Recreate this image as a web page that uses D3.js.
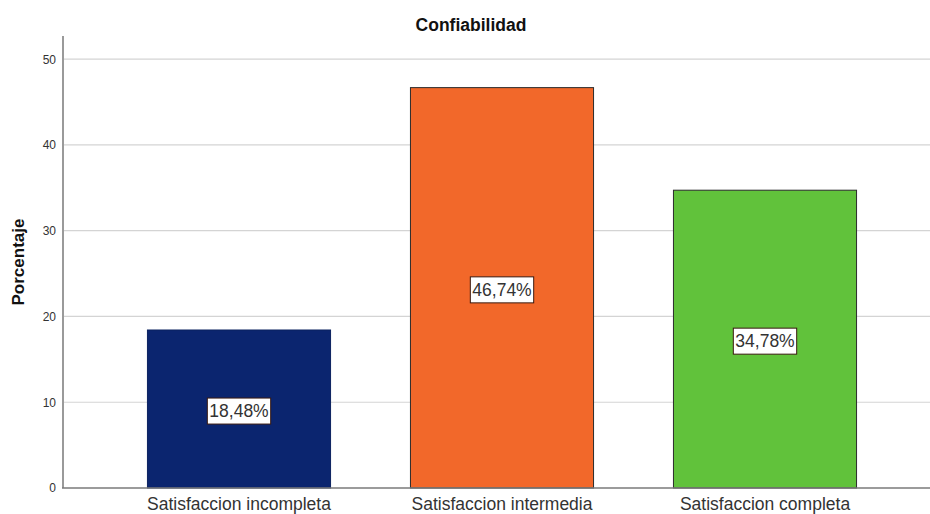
<!DOCTYPE html>
<html>
<head>
<meta charset="utf-8">
<script src="https://cdn.jsdelivr.net/npm/d3@7"></script>
<style>
  html, body { margin: 0; padding: 0; background: #fff; }
  svg { display: block; }
</style>
</head>
<body>
<svg id="chart" width="930" height="514"></svg>
<script>
// Porcentaje por nivel de satisfacción
const categories = ["Satisfaccion incompleta", "Satisfaccion intermedia", "Satisfaccion completa"];
const values = [18.48, 46.74, 34.78];
const valueLabels = ["18,48%", "46,74%", "34,78%"];
const barColors = ["#0b256f", "#f2682a", "#61c23b"];
const yTicks = [0, 10, 20, 30, 40, 50];

const svg = d3.select("#chart");
const W = 930, H = 514;
const axisX = 63, baseY = 488, topY = 36;
const FONT = "Liberation Sans, Arial, sans-serif";

const y = d3.scaleLinear().domain([0, 52.7]).range([baseY, topY]);
const x = d3.scaleBand()
  .domain(categories)
  .range([107.5, 896.5])
  .paddingInner(0.3)
  .paddingOuter(0.15);

// horizontal grid lines
svg.append("g")
  .selectAll("line")
  .data(yTicks.filter(d => d > 0))
  .join("line")
  .attr("x1", axisX)
  .attr("x2", W)
  .attr("y1", d => y(d))
  .attr("y2", d => y(d))
  .attr("stroke", "#d4d4d4")
  .attr("stroke-width", 1.2);

// bars
svg.append("g")
  .selectAll("rect")
  .data(values)
  .join("rect")
  .attr("x", (d, i) => x(categories[i]) + 0.5)
  .attr("y", d => y(d) + 0.5)
  .attr("width", x.bandwidth() - 1)
  .attr("height", d => baseY - y(d) - 0.5)
  .attr("fill", (d, i) => barColors[i])
  .attr("stroke", (d, i) => i === 0 ? "#0b2260" : "#2a2a2a")
  .attr("stroke-width", 1);

// y axis
const yAxis = d3.axisLeft(y).tickValues(yTicks).tickSize(0).tickPadding(7).tickFormat(d3.format("d"));
const gy = svg.append("g").attr("transform", `translate(${axisX},0)`).call(yAxis);
gy.select(".domain").remove();
gy.selectAll("text")
  .attr("font-family", FONT)
  .attr("font-size", 12)
  .attr("fill", "#333");

svg.append("line")
  .attr("x1", axisX).attr("x2", axisX)
  .attr("y1", topY).attr("y2", baseY)
  .attr("stroke", "#9a9a9a").attr("stroke-width", 2);

// x axis
const xAxis = d3.axisBottom(x).tickSize(0).tickPadding(10);
const gx = svg.append("g").attr("transform", `translate(0,${baseY})`).call(xAxis);
gx.select(".domain").remove();
gx.selectAll("text")
  .attr("font-family", FONT)
  .attr("font-size", 17.5)
  .attr("fill", "#333");

svg.append("line")
  .attr("x1", axisX - 1).attr("x2", W)
  .attr("y1", baseY).attr("y2", baseY)
  .attr("stroke", "#7a7a7a").attr("stroke-width", 1.5);

// value labels
const lbl = svg.append("g")
  .selectAll("g")
  .data(values)
  .join("g")
  .attr("transform", (d, i) => `translate(${x(categories[i]) + x.bandwidth() / 2},${y(d / 2) + 2})`);

lbl.append("text")
  .text((d, i) => valueLabels[i])
  .attr("text-anchor", "middle")
  .attr("dy", "0.36em")
  .attr("font-family", FONT)
  .attr("font-size", 17.5)
  .attr("fill", "#333")
  .each(function () {
    const b = this.getBBox();
    d3.select(this.parentNode).insert("rect", "text")
      .attr("x", b.x - 2)
      .attr("y", b.y - 3)
      .attr("width", b.width + 4)
      .attr("height", b.height + 6)
      .attr("fill", "#fff")
      .attr("stroke", "#3a1a10")
      .attr("stroke-width", 1);
  });

// titles
svg.append("text")
  .attr("x", 471).attr("y", 31)
  .attr("text-anchor", "middle")
  .attr("font-family", FONT)
  .attr("font-weight", "bold")
  .attr("font-size", 17.5)
  .attr("fill", "#111")
  .text("Confiabilidad");

svg.append("text")
  .attr("transform", `translate(24,262) rotate(-90)`)
  .attr("text-anchor", "middle")
  .attr("font-family", FONT)
  .attr("font-weight", "bold")
  .attr("font-size", 17)
  .attr("fill", "#111")
  .text("Porcentaje");
</script>
</body>
</html>
